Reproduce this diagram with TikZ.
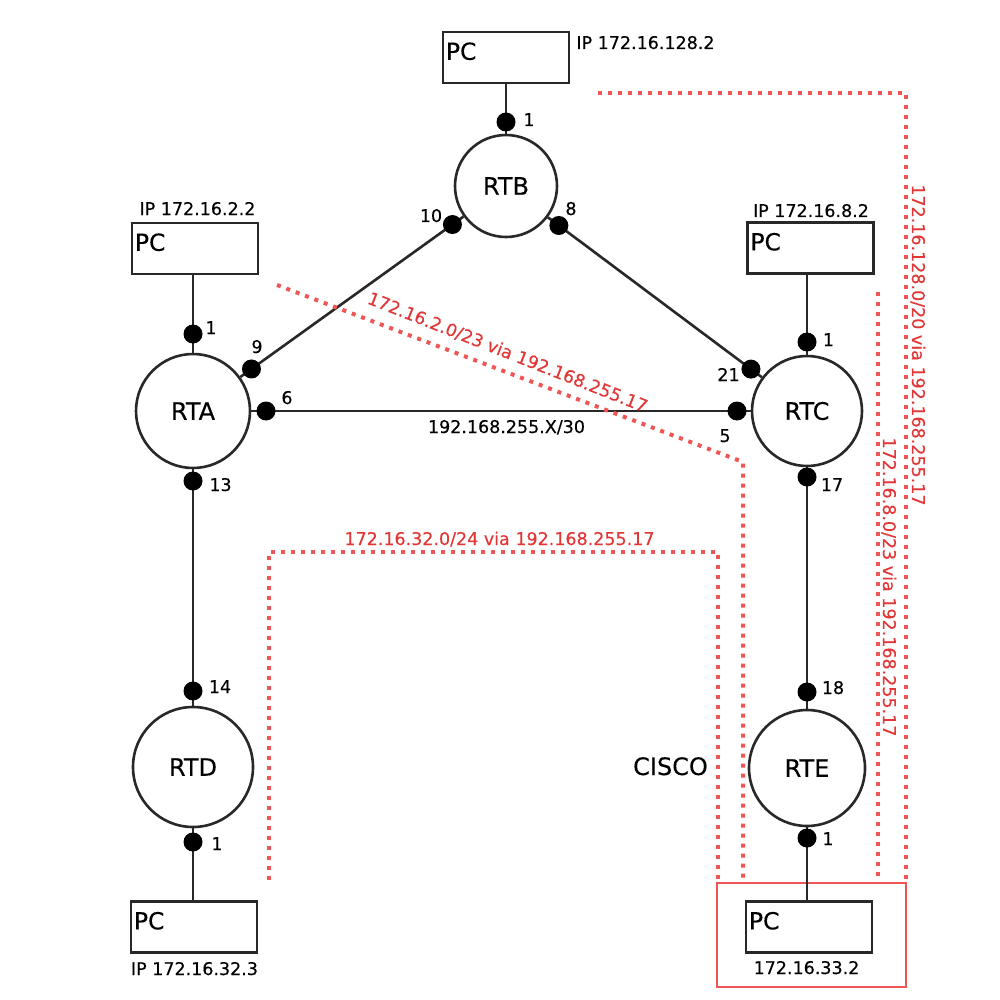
\documentclass[tikz,border=0pt]{standalone}
\usepackage{fontspec}
\setmainfont{DejaVu Sans}[FakeBold=0.3]
\usetikzlibrary{calc}
\definecolor{ink}{RGB}{40,40,40}
\definecolor{rdot}{RGB}{240,85,85}
\definecolor{rtext}{RGB}{225,55,55}
\begin{document}
\begin{tikzpicture}[x=1pt,y=-1pt,
  router/.style={circle, draw=ink, line width=2.6pt, inner sep=0pt, font=\fontsize{24}{28}\selectfont},
  pcbox/.style={draw=ink, line width=2.6pt, minimum width=126pt, minimum height=51pt, inner sep=0pt},
  port/.style={circle, fill=black, minimum size=19pt, inner sep=0pt},
  lab/.style={font=\fontsize{17.5}{21}\selectfont, inner sep=0pt, anchor=base},
  rlab/.style={lab, text=rtext},
  biglab/.style={font=\fontsize{24}{28}\selectfont, inner sep=0pt, anchor=base},
  pclab/.style={font=\fontsize{23.5}{28}\selectfont, inner sep=0pt, anchor=north west},
  link/.style={draw=ink, line width=2.6pt},
  route/.style={draw=rdot, line width=4pt, dash pattern=on 4pt off 6pt},
]
\fill[white] (0,0) rectangle (1000,1000);
\useasboundingbox (0,0) rectangle (1000,1000);

% routers
\node[router, minimum size=102pt] (rtb) at (506,186) {RTB};
\node[router, minimum size=114pt] (rta) at (193,411) {RTA};
\node[router, minimum size=110pt] (rtc) at (807,411) {RTC};
\node[router, minimum size=116pt] (rte) at (807,768) {RTE};
\node[router, minimum size=120pt] (rtd) at (193,767) {RTD};

% PCs
\node[pcbox] (pcB) at (506,57.5) {};
\node[pcbox] (pcA) at (195,248.5) {};
\node[pcbox] (pcC) at (810.5,248) {};
\node[pcbox] (pcE) at (809,927) {};
\node[pcbox] (pcD) at (194,927) {};
\node[pclab] (pcBt) at ($(pcB.north west)+(4,11.5)$) {PC};
\node[pclab] (pcAt) at ($(pcA.north west)+(4,11.5)$) {PC};
\node[pclab] (pcCt) at ($(pcC.north west)+(4,11.5)$) {PC};
\node[pclab] (pcEt) at ($(pcE.north west)+(4,11.5)$) {PC};
\node[pclab] (pcDt) at ($(pcD.north west)+(4,11.5)$) {PC};

% red group box
\node[draw=rdot, line width=2pt, minimum width=189pt, minimum height=104pt, inner sep=0pt] (grp) at (811.5,935) {};

% links
\draw[link] (pcB) -- (rtb);
\draw[link] (rta |- pcA.south) -- (rta);
\draw[link] (rtc |- pcC.south) -- (rtc);
\draw[link] (rte) -- (rte |- pcE.north);
\draw[link] (rtd) -- (rtd |- pcD.north);
\draw[link] (rtb) -- (rta);
\draw[link] (rtb) -- (rtc);
\draw[link] (rta) -- (rtc);
\draw[link] (rta) -- (rtd);
\draw[link] (rtc) -- (rte);

% ports
\node[port] (dB1) at (506,122) {};
\node[port] (dB10) at ($(rtb)!66pt!(rta)$) {};
\node[port] (dB8) at ($(rtb)!66pt!(rtc)$) {};
\node[port] (dA9) at ($(rta)!72pt!(rtb)$) {};
\node[port] (dC21) at ($(rtc)!70pt!(rtb)$) {};
\node[port] (dA6) at ($(rta)!73pt!(rtc)$) {};
\node[port] (dC5) at ($(rtc)!70pt!(rta)$) {};
\node[port] (dA1) at (193,334) {};
\node[port] (dA13) at (193,481) {};
\node[port] (dD14) at (193,691) {};
\node[port] (dD1) at (193,842) {};
\node[port] (dC1) at (807,342) {};
\node[port] (dC17) at (807,477) {};
\node[port] (dE18) at (807,692) {};
\node[port] (dE1) at (807,838) {};

% port labels
\node[lab] (lB1) at (529,126) {1};
\node[lab] (lB10) at (431,222) {10};
\node[lab] (lB8) at (571,215) {8};
\node[lab] (lA1) at (211,334) {1};
\node[lab] (lA9) at (257,353) {9};
\node[lab] (lA6) at (287,404) {6};
\node[lab] (lA13) at (220.5,491) {13};
\node[lab] (lC5) at (725,442) {5};
\node[lab] (lC21) at (728.5,381) {21};
\node[lab] (lC1) at (828.5,346) {1};
\node[lab] (lC17) at (832,491) {17};
\node[lab] (lE18) at (833,694) {18};
\node[lab] (lE1) at (828,845) {1};
\node[lab] (lD14) at (220,693) {14};
\node[lab] (lD1) at (217,850) {1};

% address labels
\node[lab] (net) at (506.5,433) {192.168.255.X/30};
\node[lab] (ipB) at (645.5,49) {IP 172.16.128.2};
\node[lab] (ipA) at (197.5,215) {IP 172.16.2.2};
\node[lab] (ipC) at (811,217) {IP 172.16.8.2};
\node[lab] (ipE) at (806.5,974) {172.16.33.2};
\node[lab] (ipD) at (194.5,975) {IP 172.16.32.3};
\node[biglab] (cisco) at (670.5,775) {CISCO};

% routes
\coordinate (r1a) at (598,93);
\coordinate (r1b) at (906,93);
\coordinate (r1c) at (906,883);
\coordinate (r2a) at (878,292);
\coordinate (r2b) at (878,883);
\coordinate (r3a) at (277,285);
\coordinate (r3b) at (743,462);
\coordinate (r3c) at (743,883);
\coordinate (r4a) at (269,880);
\coordinate (r4b) at (269,552);
\coordinate (r4c) at (718,552);
\coordinate (r4d) at (718,883);
\draw[route] (r1a) -- (r1b) -- (r1c);
\draw[route] (r2a) -- (r2b);
\draw[route] (r3a) -- (r3b) -- (r3c);
\draw[route] (r4a) -- (r4b) -- (r4c) -- (r4d);

\node[rlab, rotate=-90] (t1) at (912,345) {172.16.128.0/20 via 192.168.255.17};
\node[rlab, rotate=-90] (t2) at (883,587) {172.16.8.0/23 via 192.168.255.17};
\node[rlab, rotate=-21.5] (t3) at (505.5,358) {172.16.2.0/23 via 192.168.255.17};
\node[rlab] (t4) at (499.5,545) {172.16.32.0/24 via 192.168.255.17};
\end{tikzpicture}
\end{document}
